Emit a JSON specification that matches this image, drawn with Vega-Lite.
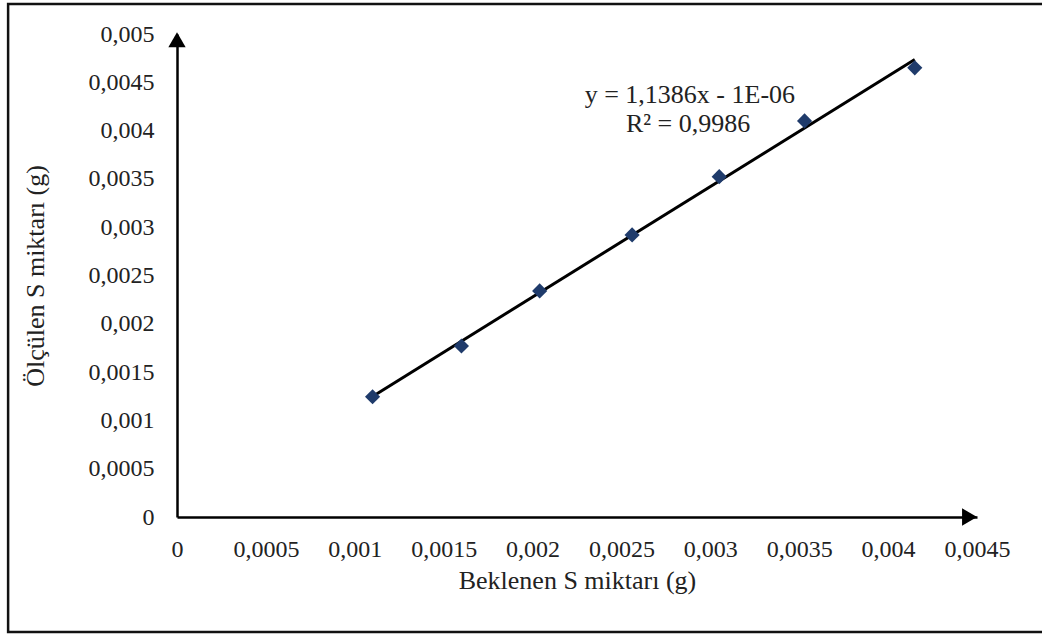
{
  "$schema": "https://vega.github.io/schema/vega-lite/v6.json",
  "width": 800,
  "height": 483,
  "autosize": {"type": "none"},
  "padding": {"left": 177, "top": 34, "right": 65, "bottom": 118},
  "background": "white",
  "config": {
    "view": {"stroke": null},
    "font": "'Liberation Serif', 'Times New Roman', serif",
    "axis": {
      "grid": false,
      "ticks": false,
      "domainColor": "black",
      "domainWidth": 2.5,
      "labelFont": "'Liberation Serif', 'Times New Roman', serif",
      "labelFontSize": 24,
      "labelColor": "#222222",
      "titleFont": "'Liberation Serif', 'Times New Roman', serif",
      "titleFontSize": 26,
      "titleFontWeight": "normal",
      "titleColor": "#222222"
    }
  },
  "datasets": {
    "points": [
      {"beklenen": 0.0011, "olculen": 0.001245},
      {"beklenen": 0.0016, "olculen": 0.00177},
      {"beklenen": 0.00204, "olculen": 0.00234},
      {"beklenen": 0.00256, "olculen": 0.00292},
      {"beklenen": 0.00305, "olculen": 0.003523},
      {"beklenen": 0.00353, "olculen": 0.0041},
      {"beklenen": 0.00415, "olculen": 0.00465}
    ],
    "frame": [
      {"x1": -0.00095, "x2": 0.00489, "y1": -0.00119, "y2": 0.00531}
    ],
    "arrows": [
      {"ax": 0, "ay": 0.00494, "shape": "triangle-up"},
      {"ax": 0.004458, "ay": 0, "shape": "triangle-right"}
    ],
    "notes": [
      {"tx": 0.002885, "ty": 0.004369, "label": "y = 1,1386x - 1E-06"},
      {"tx": 0.002875, "ty": 0.00407, "label": "R² = 0,9986"}
    ]
  },
  "layer": [
    {
      "data": {"name": "frame"},
      "mark": {"type": "rect", "fill": null, "stroke": "#111111", "strokeWidth": 2.5, "clip": false},
      "encoding": {
        "x": {
          "field": "x1", "type": "quantitative",
          "scale": {"domain": [0, 0.0045], "nice": false, "zero": false},
          "title": "Beklenen S miktarı (g)",
          "axis": {
            "values": [0, 0.0005, 0.001, 0.0015, 0.002, 0.0025, 0.003, 0.0035, 0.004, 0.0045],
            "labelExpr": "replace(format(datum.value, '~g'), '.', ',')",
            "labelPadding": 20,
            "titlePadding": 6,
            "labelFlush": false,
            "labelOverlap": false
          }
        },
        "x2": {"field": "x2"},
        "y": {
          "field": "y1", "type": "quantitative",
          "scale": {"domain": [0, 0.005], "nice": false, "zero": false},
          "title": "Ölçülen S miktarı (g)",
          "axis": {
            "values": [0, 0.0005, 0.001, 0.0015, 0.002, 0.0025, 0.003, 0.0035, 0.004, 0.0045, 0.005],
            "labelExpr": "replace(format(datum.value, '~g'), '.', ',')",
            "labelPadding": 23,
            "titlePadding": 40,
            "labelFlush": false,
            "labelOverlap": false
          }
        },
        "y2": {"field": "y2"}
      }
    },
    {
      "data": {"name": "points"},
      "transform": [{"regression": "olculen", "on": "beklenen"}],
      "mark": {"type": "line", "color": "black", "strokeWidth": 3},
      "encoding": {
        "x": {"field": "beklenen", "type": "quantitative"},
        "y": {"field": "olculen", "type": "quantitative"}
      }
    },
    {
      "data": {"name": "points"},
      "mark": {"type": "point", "shape": "diamond", "filled": true, "size": 230, "color": "#1F3B6B", "opacity": 1},
      "encoding": {
        "x": {"field": "beklenen", "type": "quantitative"},
        "y": {"field": "olculen", "type": "quantitative"}
      }
    },
    {
      "data": {"name": "arrows"},
      "mark": {"type": "point", "filled": true, "size": 300, "color": "black", "opacity": 1, "clip": false},
      "encoding": {
        "x": {"field": "ax", "type": "quantitative"},
        "y": {"field": "ay", "type": "quantitative"},
        "shape": {"field": "shape", "type": "nominal", "scale": null}
      }
    },
    {
      "data": {"name": "notes"},
      "mark": {"type": "text", "font": "'Liberation Serif', 'Times New Roman', serif", "fontSize": 26, "color": "#222222", "align": "center", "baseline": "middle"},
      "encoding": {
        "x": {"field": "tx", "type": "quantitative"},
        "y": {"field": "ty", "type": "quantitative"},
        "text": {"field": "label"}
      }
    }
  ]
}
